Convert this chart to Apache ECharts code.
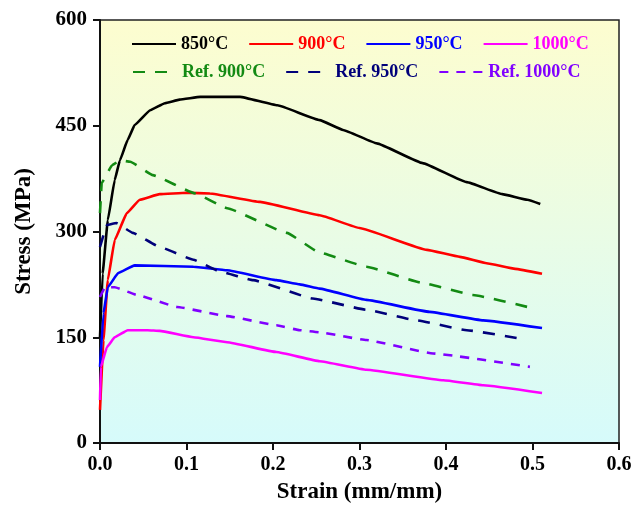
<!DOCTYPE html>
<html><head><meta charset="utf-8">
<script src="https://cdn.jsdelivr.net/npm/echarts@6/dist/echarts.min.js"></script>
<style>html,body{margin:0;padding:0;background:#fff}#c{width:636px;height:510px}</style>
</head><body><div id="c"></div>
<script>
const xTicks = [0, 0.1, 0.2, 0.3, 0.4, 0.5, 0.6];
const yTicks = [0, 150, 300, 450, 600];
const names = ['850°C', '900°C', '950°C', '1000°C', 'Ref. 900°C', 'Ref. 950°C', 'Ref. 1000°C'];

const strain850 = [0, 0.003, 0.009, 0.017, 0.023, 0.032, 0.040, 0.058, 0.075, 0.092, 0.116, 0.162, 0.205, 0.254, 0.281, 0.320, 0.373, 0.424, 0.465, 0.494, 0.509];
const stress850 = [150, 240, 316, 373, 401, 430, 451, 472, 482, 487, 491, 491, 479, 458, 444, 425, 397, 370, 353, 345, 339];

const strain900 = [0, 0.004, 0.009, 0.017, 0.031, 0.046, 0.069, 0.100, 0.127, 0.185, 0.254, 0.300, 0.378, 0.416, 0.447, 0.480, 0.511];
const stress900 = [47, 146, 231, 288, 326, 345, 353, 355, 354, 342, 323, 305, 274, 264, 255, 247, 240];

const strain950 = [0, 0.004, 0.009, 0.021, 0.040, 0.108, 0.147, 0.204, 0.231, 0.254, 0.308, 0.381, 0.443, 0.511];
const stress950 = [108, 184, 221, 241, 252, 250, 245, 231, 225, 219, 203, 186, 174, 163];

const strain1000 = [0, 0.001, 0.008, 0.017, 0.032, 0.055, 0.069, 0.108, 0.147, 0.204, 0.254, 0.308, 0.397, 0.443, 0.511];
const stress1000 = [61, 108, 136, 150, 160, 160, 159, 150, 143, 129, 116, 104, 89, 82, 71];

const strainRef900 = [0, 0.002, 0.014, 0.023, 0.035, 0.061, 0.110, 0.147, 0.216, 0.254, 0.308, 0.373, 0.431, 0.494];
const stressRef900 = [326, 369, 394, 401, 399, 380, 354, 333, 298, 270, 250, 227, 210, 193];

const strainRef950 = [0, 0.008, 0.019, 0.038, 0.069, 0.108, 0.139, 0.177, 0.246, 0.308, 0.366, 0.424, 0.491];
const stressRef950 = [278, 309, 312, 298, 278, 260, 243, 231, 205, 189, 174, 160, 147];

const strainRef1000 = [0, 0.006, 0.017, 0.043, 0.089, 0.147, 0.204, 0.231, 0.254, 0.308, 0.385, 0.497];
const stressRef1000 = [207, 221, 221, 210, 193, 180, 167, 160, 157, 146, 127, 108];

const colors = ['#000000', '#ff0000', '#0000ff', '#ff00ff', '#138a13', '#00007a', '#8000ff'];
const xs = [strain850, strain900, strain950, strain1000, strainRef900, strainRef950, strainRef1000];
const ys = [stress850, stress900, stress950, stress1000, stressRef900, stressRef950, stressRef1000];
const dashes = [null, null, null, null, [12, 10], [12, 10], [9, 8]];

const font = 'Liberation Serif, Times New Roman, serif';
const series = names.map((n, i) => ({
  name: n, type: 'line', showSymbol: false, symbol: 'none', smooth: 0.1, smoothMonotone: 'x',
  data: xs[i].map((x, k) => [x, ys[i][k]]),
  lineStyle: { color: colors[i], width: 2.6, type: dashes[i] || 'solid' },
  itemStyle: { color: colors[i] }
}));

const legendBase = { itemWidth: 44, itemHeight: 14, itemGap: 20,
  itemStyle: { color: 'rgba(0,0,0,0)', borderWidth: 0, opacity: 0 },
  textStyle: { fontFamily: font, fontWeight: 'bold', fontSize: 18 } };

const chart = echarts.init(document.getElementById('c'), null, { renderer: 'canvas' });
chart.setOption({
  animation: false,
  backgroundColor: '#ffffff',
  grid: {
    left: 100, top: 20, right: 17, bottom: 67, show: true,
    borderColor: '#222', borderWidth: 1.5,
    backgroundColor: { type: 'linear', x: 0, y: 0, x2: 0, y2: 1,
      colorStops: [{ offset: 0, color: '#fdfdcf' }, { offset: 1, color: '#d6fbfb' }] }
  },
  legend: [
    Object.assign({ data: names.slice(0, 4).map((n, i) => ({ name: n, textStyle: { color: colors[i] } })),
      left: 126, top: 30 }, legendBase),
    Object.assign({ data: names.slice(4).map((n, i) => ({ name: n, textStyle: { color: colors[i + 4] } })),
      left: 127, top: 58 }, legendBase)
  ],
  xAxis: {
    type: 'value', min: xTicks[0], max: xTicks[xTicks.length - 1], interval: 0.1,
    name: 'Strain (mm/mm)', nameLocation: 'middle', nameGap: 38,
    nameTextStyle: { fontFamily: font, fontWeight: 'bold', fontSize: 23, color: '#000' },
    axisLine: { lineStyle: { color: '#111', width: 2 } },
    axisTick: { inside: false, length: 7, lineStyle: { width: 2, color: '#111' } },
    axisLabel: { fontFamily: font, fontWeight: 'bold', fontSize: 20, color: '#000', margin: 12,
      formatter: v => v.toFixed(1) },
    splitLine: { show: false }
  },
  yAxis: {
    type: 'value', min: yTicks[0], max: yTicks[yTicks.length - 1], interval: 150,
    name: 'Stress (MPa)', nameLocation: 'middle', nameGap: 64,
    nameTextStyle: { fontFamily: font, fontWeight: 'bold', fontSize: 23, color: '#000' },
    axisLine: { show: true, lineStyle: { color: '#111', width: 2 } },
    axisTick: { show: true, inside: false, length: 7, lineStyle: { width: 2, color: '#111' } },
    axisLabel: { fontFamily: font, fontWeight: 'bold', fontSize: 21, color: '#000', margin: 13 },
    splitLine: { show: false }
  },
  series: series
});
</script></body></html>
